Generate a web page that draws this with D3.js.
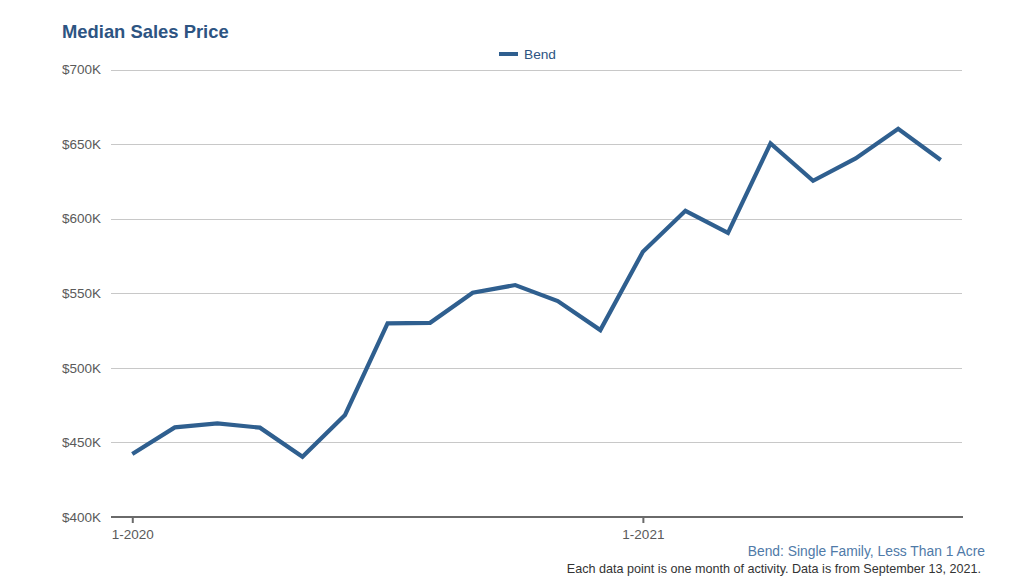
<!DOCTYPE html>
<html>
<head>
<meta charset="utf-8">
<script src="https://cdn.jsdelivr.net/npm/d3@7"></script>
<style>
  html, body { margin: 0; padding: 0; background: #fff; }
  svg { display: block; font-family: "Liberation Sans", Arial, Helvetica, sans-serif; }
</style>
</head>
<body>
<svg id="chart" width="1024" height="579"></svg>
<script>
const months = ["1-2020","2-2020","3-2020","4-2020","5-2020","6-2020","7-2020","8-2020","9-2020","10-2020","11-2020","12-2020",
                "1-2021","2-2021","3-2021","4-2021","5-2021","6-2021","7-2021","8-2021"];
const bendValues = [442200, 460100, 462800, 459900, 440400, 468400, 529800, 530200, 550300, 555500, 544800, 525300,
                    577800, 605300, 590500, 650500, 625400, 640400, 660300, 639300];
const yTicks = [400000, 450000, 500000, 550000, 600000, 650000, 700000];
const xTickLabels = ["1-2020", "1-2021"];
const seriesName = "Bend";

const svg = d3.select("#chart");
const margin = {left: 111, right: 62, top: 69.5, bottom: 62};
const W = 1024, H = 579;
const blue = "#2f5f8f";

const x = d3.scalePoint().domain(months).range([margin.left, W - margin.right]).padding(0.5);
const y = d3.scaleLinear().domain([400000, 700000]).range([H - margin.bottom, margin.top]);

// grid
svg.append("g").selectAll("line").data(yTicks.slice(1)).join("line")
  .attr("x1", margin.left).attr("x2", W - margin.right)
  .attr("y1", d => Math.round(y(d)) + 0.5).attr("y2", d => Math.round(y(d)) + 0.5)
  .attr("stroke", "#c8c8c8").attr("stroke-width", 1);

// y axis labels
const yAxis = d3.axisLeft(y).tickValues(yTicks).tickSize(0).tickPadding(10)
  .tickFormat(d => "$" + d3.format("d")(d / 1000) + "K");
const gy = svg.append("g").attr("transform", `translate(${margin.left},0)`).call(yAxis);
gy.select(".domain").remove();
gy.selectAll("text").attr("fill", "#5a5a5a").style("font-size", "13.5px")
  .attr("font-family", "Liberation Sans, Arial, sans-serif");

// x axis
const xAxis = d3.axisBottom(x).tickValues(xTickLabels).tickSize(6).tickSizeOuter(0).tickPadding(6);
const gx = svg.append("g").attr("transform", `translate(0,${y(400000)})`).call(xAxis);
gx.select(".domain").attr("stroke", "#6a6a6a").attr("stroke-width", 2)
  .attr("d", `M${margin.left},0H${W - margin.right + 1}`);
gx.selectAll(".tick line").attr("stroke", "#6a6a6a").attr("stroke-width", 2);
gx.selectAll("text").attr("fill", "#5a5a5a").style("font-size", "13.5px")
  .attr("font-family", "Liberation Sans, Arial, sans-serif");

// line
const line = d3.line().x((d, i) => x(months[i])).y(d => y(d));
svg.append("path").datum(bendValues)
  .attr("d", line).attr("fill", "none").attr("stroke", blue)
  .attr("stroke-width", 4.2).attr("stroke-linejoin", "miter").attr("stroke-linecap", "butt");

// title
svg.append("text").attr("x", 62).attr("y", 38).text("Median Sales Price")
  .attr("fill", "#2d5482").style("font-size", "18.4px").style("font-weight", "bold");

// legend
svg.append("line").attr("x1", 499).attr("x2", 518).attr("y1", 54).attr("y2", 54)
  .attr("stroke", blue).attr("stroke-width", 4);
svg.append("text").attr("x", 524).attr("y", 59).text(seriesName)
  .attr("fill", "#2d5482").style("font-size", "13.7px");

// footnotes
svg.append("text").attr("x", 985).attr("y", 556).attr("text-anchor", "end")
  .text("Bend: Single Family, Less Than 1 Acre").attr("fill", "#4f7aa8").style("font-size", "13.85px");
svg.append("text").attr("x", 981).attr("y", 573).attr("text-anchor", "end")
  .text("Each data point is one month of activity. Data is from September 13, 2021.")
  .attr("fill", "#333").style("font-size", "12.6px");
</script>
</body>
</html>
